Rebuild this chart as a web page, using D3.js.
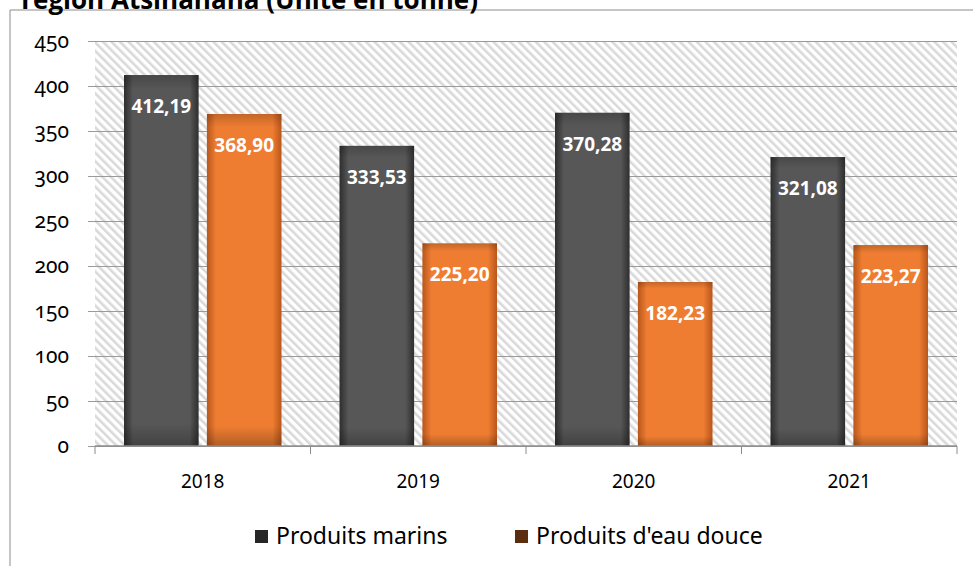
<!DOCTYPE html>
<html>
<head>
<meta charset="utf-8">
<script src="https://cdn.jsdelivr.net/npm/d3@7"></script>
<style>
  body { margin: 0; background: #fff; }
  svg { display: block; }
</style>
</head>
<body>
<div id="chart"></div>
<script>
// Data
const years = ["2018", "2019", "2020", "2021"];
const marins = [412.19, 333.53, 370.28, 321.08];
const eauDouce = [368.90, 225.20, 182.23, 223.27];
const seriesNames = ["Produits marins", "Produits d'eau douce"];
const yTicks = [0, 50, 100, 150, 200, 250, 300, 350, 400, 450];

const width = 973;
const height = 566;
const margin = { top: 41, right: 16, bottom: 120, left: 95 };

const svg = d3.select("#chart")
    .append("svg")
    .attr("width", width)
    .attr("height", height);

const defs = svg.append("defs");

// Light diagonal hatch for the plot background
const hatch = defs.append("pattern")
    .attr("id", "hatch")
    .attr("patternUnits", "userSpaceOnUse")
    .attr("width", 6)
    .attr("height", 6)
    .attr("patternTransform", "rotate(-45)");
hatch.append("rect").attr("width", 6).attr("height", 6).attr("fill", "#fff");
hatch.append("rect").attr("width", 2.6).attr("height", 6).attr("fill", "#d9d9d9");

// Bar shading: darker edges, lighter middle
function barGradient(id, edge, mid) {
    const g = defs.append("linearGradient").attr("id", id)
        .attr("x1", "0").attr("x2", "1").attr("y1", "0").attr("y2", "0");
    g.append("stop").attr("offset", "0%").attr("stop-color", edge);
    g.append("stop").attr("offset", "12%").attr("stop-color", mid);
    g.append("stop").attr("offset", "88%").attr("stop-color", mid);
    g.append("stop").attr("offset", "100%").attr("stop-color", edge);
}
barGradient("gMarins", "#2e2e2e", "#575757");
barGradient("gDouce", "#b8561a", "#ee7d32");

const shade = defs.append("linearGradient").attr("id", "gShade")
    .attr("x1", "0").attr("x2", "0").attr("y1", "0").attr("y2", "1");
shade.append("stop").attr("offset", "0%").attr("stop-color", "#000").attr("stop-opacity", 0.18);
shade.append("stop").attr("offset", "4%").attr("stop-color", "#000").attr("stop-opacity", 0);
shade.append("stop").attr("offset", "94%").attr("stop-color", "#000").attr("stop-opacity", 0);
shade.append("stop").attr("offset", "100%").attr("stop-color", "#000").attr("stop-opacity", 0.25);

// Outer chart frame (cut by the page edge)
svg.append("path")
    .attr("d", `M10,${height} L10,10 L${width},10`)
    .attr("fill", "none")
    .attr("stroke", "#8c8c8c")
    .attr("stroke-width", 1);

// Title, partly cropped at the top as in the source
svg.append("text")
    .attr("x", 478)
    .attr("y", 9)
    .attr("text-anchor", "end")
    .attr("font-family", "Open Sans, sans-serif")
    .attr("font-weight", "bold")
    .attr("font-size", 26)
    .attr("fill", "#000")
    .text("région Atsinanana (Unité en tonne)");

const x = d3.scaleBand()
    .domain(years)
    .range([margin.left, width - margin.right]);

const xInner = d3.scaleBand()
    .domain(seriesNames)
    .range([0, x.bandwidth()])
    .paddingInner(0.1)
    .paddingOuter(0.35);

const y = d3.scaleLinear()
    .domain([0, 450])
    .range([height - margin.bottom, margin.top]);

// Plot background
svg.append("rect")
    .attr("x", margin.left)
    .attr("y", margin.top)
    .attr("width", width - margin.right - margin.left)
    .attr("height", y(0) - margin.top)
    .attr("fill", "url(#hatch)");

// Gridlines and y labels
const yAxis = svg.append("g")
    .attr("transform", `translate(${margin.left},0)`)
    .call(d3.axisLeft(y).tickValues(yTicks)
        .tickSize(-(width - margin.right - margin.left))
        .tickSizeOuter(0)
        .tickPadding(26));
yAxis.select(".domain").remove();
yAxis.selectAll(".tick line")
    .attr("x1", -7)
    .attr("stroke", "#9a9a9a");
yAxis.selectAll(".tick text")
    .attr("font-family", "Noto Sans, sans-serif")
    .attr("font-size", 21)
    .style("font-variant-numeric", "oldstyle-nums")
    .attr("fill", "#000");

const rows = years.map((yr, i) => ({ year: yr, values: [marins[i], eauDouce[i]] }));
const fills = ["url(#gMarins)", "url(#gDouce)"];

const groups = svg.selectAll(".year")
    .data(rows)
    .enter()
    .append("g")
    .attr("transform", d => `translate(${x(d.year)},0)`);

groups.selectAll("rect.bar")
    .data(d => d.values.map((v, k) => ({ v, k })))
    .enter()
    .append("rect")
    .attr("class", "bar")
    .attr("x", d => xInner(seriesNames[d.k]))
    .attr("y", d => y(d.v))
    .attr("width", xInner.bandwidth())
    .attr("height", d => y(0) - y(d.v))
    .attr("fill", d => fills[d.k]);

groups.selectAll("rect.shade")
    .data(d => d.values.map((v, k) => ({ v, k })))
    .enter()
    .append("rect")
    .attr("class", "shade")
    .attr("x", d => xInner(seriesNames[d.k]))
    .attr("y", d => y(d.v))
    .attr("width", xInner.bandwidth())
    .attr("height", d => y(0) - y(d.v))
    .attr("fill", "url(#gShade)");

groups.selectAll("text.val")
    .data(d => d.values.map((v, k) => ({ v, k })))
    .enter()
    .append("text")
    .attr("class", "val")
    .attr("x", d => xInner(seriesNames[d.k]) + xInner.bandwidth() / 2)
    .attr("y", d => y(d.v) + 33)
    .attr("text-anchor", "middle")
    .attr("dominant-baseline", "middle")
    .attr("font-family", "Open Sans, sans-serif")
    .attr("font-weight", "bold")
    .attr("font-size", 19)
    .attr("fill", "#fff")
    .text(d => d3.format(".2f")(d.v).replace(".", ","));

// x axis with ticks between categories
const xAxisG = svg.append("g")
    .attr("transform", `translate(0,${y(0)})`);
xAxisG.append("line")
    .attr("x1", margin.left)
    .attr("x2", width - margin.right)
    .attr("stroke", "#8c8c8c")
    .attr("stroke-width", 1.5);
const bounds = years.map(yr => x(yr)).concat([x(years[years.length - 1]) + x.bandwidth()]);
xAxisG.selectAll("line.tk")
    .data(bounds)
    .enter()
    .append("line")
    .attr("class", "tk")
    .attr("x1", d => d)
    .attr("x2", d => d)
    .attr("y1", 0)
    .attr("y2", 8)
    .attr("stroke", "#8c8c8c");
xAxisG.selectAll("text")
    .data(years)
    .enter()
    .append("text")
    .attr("x", d => x(d) + x.bandwidth() / 2)
    .attr("y", 42)
    .attr("text-anchor", "middle")
    .attr("font-family", "Noto Sans, sans-serif")
    .attr("font-size", 19)
    .attr("fill", "#000")
    .text(d => d);

// Legend
const legendColors = ["#262626", "#5b2c0e"];
const legendX = [255, 515];
const legend = svg.append("g");
seriesNames.forEach((name, i) => {
    legend.append("rect")
        .attr("x", legendX[i])
        .attr("y", 530)
        .attr("width", 13)
        .attr("height", 13)
        .attr("fill", legendColors[i]);
    legend.append("text")
        .attr("x", legendX[i] + 21)
        .attr("y", 544)
        .attr("font-family", "Noto Sans, sans-serif")
        .attr("font-size", 23)
        .attr("fill", "#000")
        .text(name);
});
</script>
</body>
</html>
